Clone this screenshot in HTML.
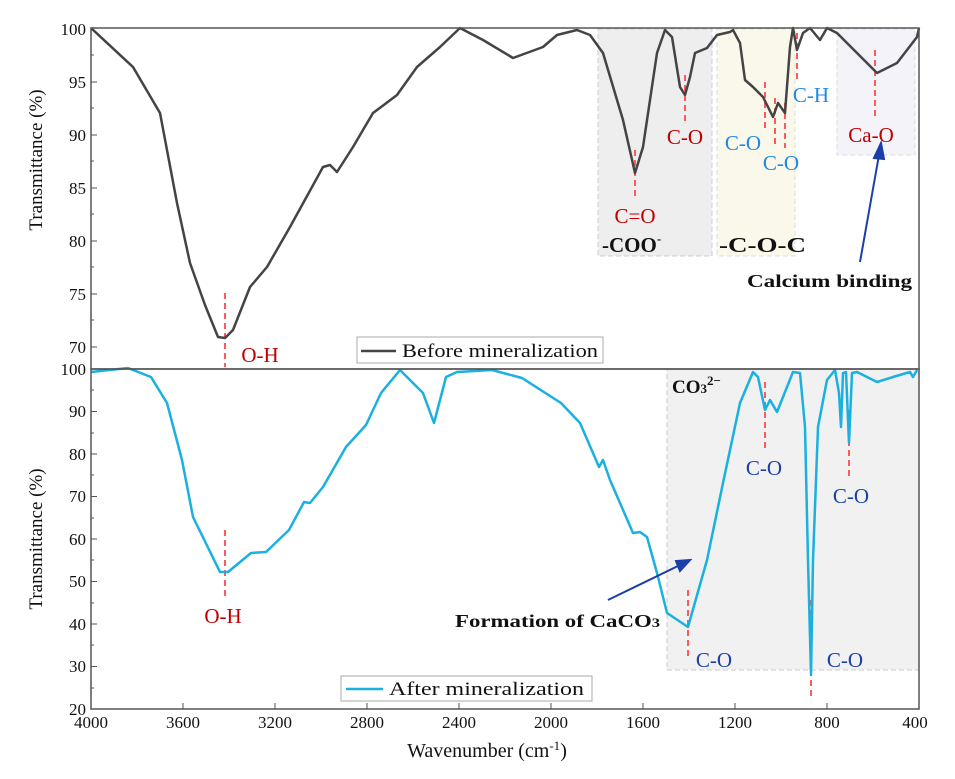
<!DOCTYPE html>
<html><head><meta charset="utf-8"><style>
body{margin:0;background:#fff;}
svg text{font-family:"Liberation Serif",serif;}
</style></head><body>
<svg width="955" height="774" xmlns="http://www.w3.org/2000/svg">
<rect width="955" height="774" fill="#fff"/>
<rect x="598" y="29" width="114" height="227" fill="#eeeeee" stroke="#ccc" stroke-dasharray="5,3"/>
<rect x="717" y="29" width="78" height="227" fill="#faf8ea" stroke="#ddd" stroke-dasharray="5,3"/>
<rect x="837" y="29" width="78" height="126" fill="#f4f3fa" stroke="#ddd" stroke-dasharray="5,3"/>
<rect x="667" y="369" width="252" height="301" fill="#f1f1f1" stroke="#ccc" stroke-dasharray="5,3"/>
<g stroke="#ff5a5a" stroke-width="2" stroke-dasharray="6,4">
<line x1="225" y1="293" x2="225" y2="367"/>
<line x1="635" y1="150" x2="635" y2="197"/>
<line x1="685" y1="75" x2="685" y2="122"/>
<line x1="765" y1="82" x2="765" y2="128"/>
<line x1="775" y1="98" x2="775" y2="147"/>
<line x1="785" y1="103" x2="785" y2="148"/>
<line x1="797" y1="33" x2="797" y2="80"/>
<line x1="875" y1="50" x2="875" y2="120"/>
<line x1="225" y1="530" x2="225" y2="597"/>
<line x1="765" y1="382" x2="765" y2="450"/>
<line x1="849" y1="410" x2="849" y2="480"/>
<line x1="688" y1="590" x2="688" y2="660"/>
<line x1="811" y1="600" x2="811" y2="700"/>
</g>
<polyline fill="none" stroke="#444" stroke-width="2.5" stroke-linejoin="round" points="91,28 133,67 160,113 177,203 190,263 205,305 218,337 225,338 233,330 250,287 267,267 290,227 323,167 330,165 337,172 353,147 373,113 397,95 417,67 440,47 460,28 483,40 513,58 543,47 557,35 577,30 590,35 603,53 623,120 635,173 643,147 657,53 665,30 672,37 680,87 685,95 690,77 695,53 707,48 717,35 730,32 733,30 740,43 745,80 753,87 763,97 773,117 778,103 785,113 790,47 793,28 797,50 803,33 810,28 820,40 827,28 837,33 857,53 877,73 897,63 917,37 919,28"/>
<polyline fill="none" stroke="#1ab0e0" stroke-width="2.5" stroke-linejoin="round" points="91,372 128,368 151,377 167,403 182,460 193,517 220,572 228,572 251,553 266,552 289,530 304,502 310,503 323,487 346,447 366,425 381,393 400,370 408,378 423,393 434,423 446,377 457,372 492,370 522,378 561,403 580,423 599,467 603,460 610,480 633,533 640,532 647,537 657,573 667,613 673,617 688,627 707,560 723,483 740,403 753,372 758,377 765,410 770,400 777,412 787,387 793,372 800,373 805,427 808,560 811,675 813,560 818,427 827,380 835,370 839,393 841,427 843,373 846,372 849,443 852,373 857,372 867,377 877,382 893,377 910,372 913,377 917,370"/>
<rect x="91" y="28" width="828" height="341" fill="none" stroke="#555" stroke-width="1.5"/>
<rect x="91" y="369" width="828" height="340" fill="none" stroke="#555" stroke-width="1.5"/>
<g stroke="#555" stroke-width="1">
<line x1="91" x2="97" y1="82" y2="82"/><line x1="91" x2="97" y1="135" y2="135"/><line x1="91" x2="97" y1="188" y2="188"/><line x1="91" x2="97" y1="241" y2="241"/><line x1="91" x2="97" y1="294" y2="294"/><line x1="91" x2="97" y1="347" y2="347"/>
<line x1="91" x2="94" y1="55" y2="55"/><line x1="91" x2="94" y1="108" y2="108"/><line x1="91" x2="94" y1="161" y2="161"/><line x1="91" x2="94" y1="214" y2="214"/><line x1="91" x2="94" y1="267" y2="267"/><line x1="91" x2="94" y1="320" y2="320"/>
<line x1="91" x2="97" y1="411.5" y2="411.5"/><line x1="91" x2="97" y1="454" y2="454"/><line x1="91" x2="97" y1="496.5" y2="496.5"/><line x1="91" x2="97" y1="539" y2="539"/><line x1="91" x2="97" y1="581.5" y2="581.5"/><line x1="91" x2="97" y1="624" y2="624"/><line x1="91" x2="97" y1="666.5" y2="666.5"/>
<line x1="91" x2="94" y1="390" y2="390"/><line x1="91" x2="94" y1="433" y2="433"/><line x1="91" x2="94" y1="475" y2="475"/><line x1="91" x2="94" y1="518" y2="518"/><line x1="91" x2="94" y1="560" y2="560"/><line x1="91" x2="94" y1="603" y2="603"/><line x1="91" x2="94" y1="645" y2="645"/><line x1="91" x2="94" y1="688" y2="688"/>
<line x1="183" x2="183" y1="703" y2="709"/><line x1="275" x2="275" y1="703" y2="709"/><line x1="367" x2="367" y1="703" y2="709"/><line x1="459" x2="459" y1="703" y2="709"/><line x1="551" x2="551" y1="703" y2="709"/><line x1="643" x2="643" y1="703" y2="709"/><line x1="735" x2="735" y1="703" y2="709"/><line x1="827" x2="827" y1="703" y2="709"/>
</g>
<g font-size="17" fill="#111" text-anchor="end">
<text x="86" y="35">100</text><text x="86" y="88">95</text><text x="86" y="141">90</text><text x="86" y="194">85</text><text x="86" y="247">80</text><text x="86" y="300">75</text><text x="86" y="353">70</text>
<text x="86" y="375">100</text><text x="86" y="417">90</text><text x="86" y="460">80</text><text x="86" y="502">70</text><text x="86" y="545">60</text><text x="86" y="587">50</text><text x="86" y="630">40</text><text x="86" y="672">30</text><text x="86" y="715">20</text>
</g>
<g font-size="17" fill="#111" text-anchor="middle">
<text x="91" y="728">4000</text><text x="183" y="728">3600</text><text x="275" y="728">3200</text><text x="367" y="728">2800</text><text x="459" y="728">2400</text><text x="551" y="728">2000</text><text x="643" y="728">1600</text><text x="735" y="728">1200</text><text x="827" y="728">800</text><text x="915" y="728">400</text>
</g>
<g font-size="21" text-anchor="middle">
<text x="260" y="362" fill="#c00000">O-H</text>
<text x="635" y="223" fill="#c00000">C=O</text>
<text x="685" y="144" fill="#c00000">C-O</text>
<text x="743" y="150" fill="#1e88e5">C-O</text>
<text x="781" y="170" fill="#1e88e5">C-O</text>
<text x="811" y="102" fill="#1e88e5">C-H</text>
<text x="871" y="142" fill="#c00000">Ca-O</text>
<text x="223" y="623" fill="#c00000">O-H</text>
<text x="764" y="475" fill="#1a3fa8">C-O</text>
<text x="851" y="503" fill="#1a3fa8">C-O</text>
<text x="714" y="667" fill="#1a3fa8">C-O</text>
<text x="845" y="667" fill="#1a3fa8">C-O</text>
</g>
<g font-weight="bold" fill="#111">
<text x="602" y="252" font-size="21">-COO<tspan dy="-9" font-size="13">-</tspan></text>
<text x="719" y="252" font-size="21" textLength="87" lengthAdjust="spacingAndGlyphs">-C-O-C</text>
<text x="747" y="287" font-size="18" textLength="165" lengthAdjust="spacingAndGlyphs">Calcium binding</text>
<text x="455" y="627" font-size="18" textLength="205" lengthAdjust="spacingAndGlyphs">Formation of CaCO<tspan font-size="13">3</tspan></text>
<text x="672" y="393" font-size="19">CO<tspan font-size="13">3</tspan><tspan font-size="13" dy="-8">2−</tspan></text>
</g>
<g stroke="#1a3fa8" stroke-width="2" fill="#1a3fa8">
<line x1="860" y1="262" x2="879" y2="155"/><polygon points="881,143 874,158 884,159"/>
<line x1="608" y1="600" x2="680" y2="565"/><polygon points="690,560 676,561 680,571"/>
</g>
<text transform="translate(42,160) rotate(-90)" font-size="19" text-anchor="middle" fill="#111">Transmittance (%)</text>
<text transform="translate(42,539) rotate(-90)" font-size="19" text-anchor="middle" fill="#111">Transmittance (%)</text>
<text x="487" y="757" font-size="20" text-anchor="middle" fill="#111">Wavenumber (cm<tspan dy="-7" font-size="13">-1</tspan><tspan dy="7">)</tspan></text>
<rect x="357" y="337" width="246" height="26" fill="#fff" stroke="#aaa"/>
<line x1="361" y1="351" x2="396" y2="351" stroke="#444" stroke-width="2.5"/>
<text x="402" y="357" font-size="19" fill="#111" textLength="196" lengthAdjust="spacingAndGlyphs">Before mineralization</text>
<rect x="341" y="676" width="251" height="25" fill="#fff" stroke="#aaa"/>
<line x1="346" y1="689" x2="383" y2="689" stroke="#1ab0e0" stroke-width="2.5"/>
<text x="389" y="695" font-size="19" fill="#111" textLength="195" lengthAdjust="spacingAndGlyphs">After mineralization</text>
</svg>
</body></html>
